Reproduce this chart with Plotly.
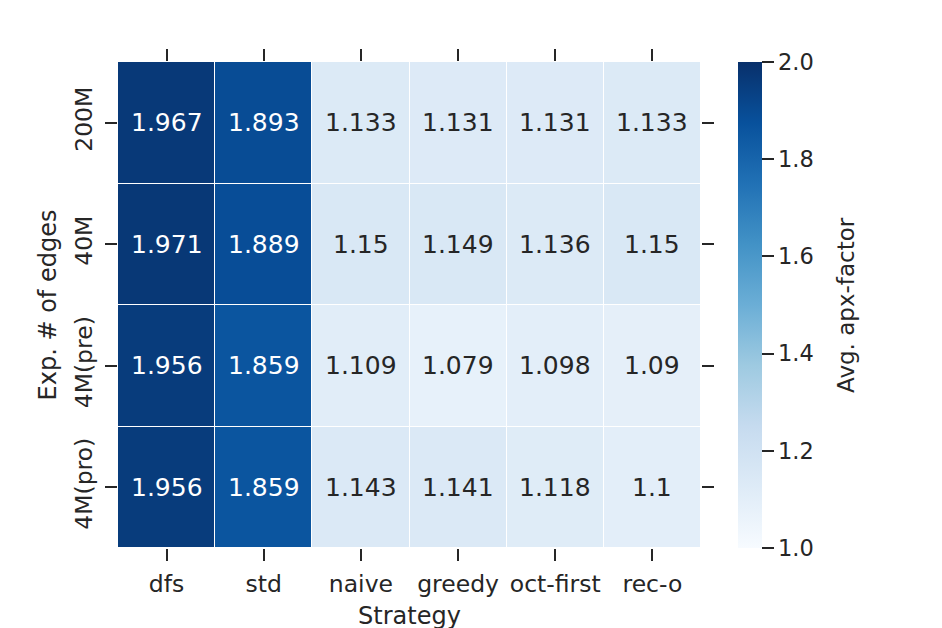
import plotly.graph_objects as go

strategies = ["dfs", "std", "naive", "greedy", "oct-first", "rec-o"]
edge_sizes = ["200M", "40M", "4M(pre)", "4M(pro)"]
vals_200M = [1.967, 1.893, 1.133, 1.131, 1.131, 1.133]
vals_40M = [1.971, 1.889, 1.15, 1.149, 1.136, 1.15]
vals_4Mpre = [1.956, 1.859, 1.109, 1.079, 1.098, 1.09]
vals_4Mpro = [1.956, 1.859, 1.143, 1.141, 1.118, 1.1]
z = [vals_200M, vals_40M, vals_4Mpre, vals_4Mpro]
cbar_ticks = [1.0, 1.2, 1.4, 1.6, 1.8, 2.0]

blues = [
    [0.0, "#f7fbff"], [0.125, "#deebf7"], [0.25, "#c6dbef"], [0.375, "#9ecae1"],
    [0.5, "#6baed6"], [0.625, "#4292c6"], [0.75, "#2171b5"], [0.875, "#08519c"],
    [1.0, "#08306b"],
]
dark = "#262626"
font = "DejaVu Sans"

fig = go.Figure()
fig.add_trace(go.Heatmap(
    z=z, x=strategies, y=edge_sizes, zmin=1.0, zmax=2.0,
    colorscale=blues, xgap=1, ygap=1, hoverinfo="skip",
    colorbar=dict(
        x=1.0635, xanchor="left", xref="paper", y=0.5, yanchor="middle", len=1.0, lenmode="fraction",
        xpad=0, ypad=0,
        thickness=24, outlinewidth=0, tickvals=cbar_ticks, ticktext=[f"{t:.1f}" for t in cbar_ticks],
        ticks="outside", ticklen=12, tickwidth=2, tickcolor=dark,
        tickfont=dict(family=font, size=22.5, color=dark),
    ),
))

for yi, row in enumerate(z):
    for xi, v in enumerate(row):
        fig.add_annotation(
            x=strategies[xi], y=edge_sizes[yi], text=f"{v:.4g}", showarrow=False,
            font=dict(family=font, size=25, color="white" if v > 1.5 else dark),
        )

fig.add_annotation(
    x=1.2487, y=0.5, xref="paper", yref="paper", text="Avg. apx-factor", textangle=-90,
    showarrow=False, xanchor="center", yanchor="middle",
    font=dict(family=font, size=23, color=dark),
)

axis_common = dict(ticks="outside", ticklen=12, tickwidth=2, tickcolor=dark, mirror="ticks",
                   showgrid=False, zeroline=False, showline=False)
fig.update_xaxes(**axis_common, tickfont=dict(family=font, size=23.5, color=dark), ticklabelstandoff=3,
                 title=dict(text="Strategy", font=dict(family=font, size=24, color=dark), standoff=9))
fig.update_yaxes(**axis_common, autorange="reversed", tickangle=-90, ticklabelstandoff=4,
                 tickfont=dict(family=font, size=23.5, color=dark),
                 title=dict(text="Exp. # of edges", font=dict(family=font, size=24, color=dark), standoff=6))

fig.update_layout(
    width=942, height=628, plot_bgcolor="white", paper_bgcolor="white",
    margin=dict(l=110, r=249, t=54, b=88, autoexpand=False), font=dict(family=font, color=dark),
)
fig.write_html("out.html")
